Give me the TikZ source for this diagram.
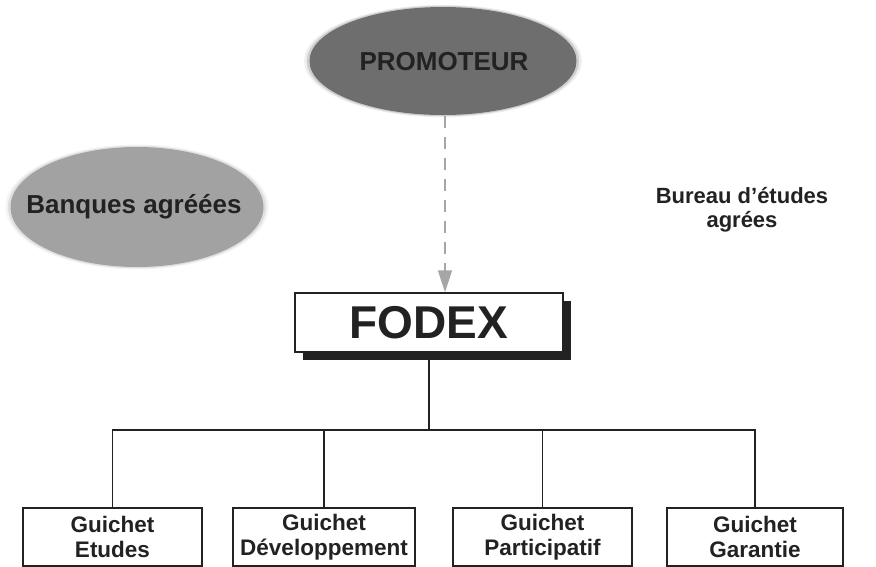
\documentclass[tikz,border=0pt]{standalone}
\usepackage{fontspec}
\setmainfont{Liberation Sans}
\usetikzlibrary{arrows.meta,shadows,shapes.geometric}
\definecolor{ink}{HTML}{222222}
\definecolor{darkoval}{HTML}{6E6E6E}
\definecolor{lightoval}{HTML}{A2A2A2}
\tikzset{
  oval/.style={ellipse, inner sep=0pt, text=ink, font=\bfseries\fontsize{26}{28}\selectfont},
  guichet/.style={draw=ink, line width=1.4pt, fill=white, minimum width=#1, minimum height=58pt, inner sep=0pt, align=center, text=ink, font=\bfseries\fontsize{22.5}{25.5}\selectfont},
  link/.style={draw=ink, line width=1.5pt},
}
\begin{document}
\begin{tikzpicture}[x=1pt,y=-1pt]
\useasboundingbox (0,0) rectangle (876,566);
% soft edges
\foreach \s/\o in {1.04/0.12,1.02/0.25}{
  \fill[darkoval,opacity=\o] (443,61) ellipse ({133.5*\s} and {54*\s});
  \fill[lightoval,opacity=\o] (137,207) ellipse ({126.5*\s} and {60*\s});
}
\fill[darkoval] (443,61) ellipse (133.5 and 54);
\fill[lightoval] (137,207) ellipse (126.5 and 60);
\node[oval, minimum width=267pt, minimum height=108pt] (prom) at (444,62) {PROMOTEUR};
\node[oval, minimum width=253pt, minimum height=120pt] (banq) at (134,207) {Banques agréées};
\node[align=center, text=ink, font=\bfseries\fontsize{22}{24}\selectfont] (bureau) at (742,210) {Bureau d’études\\agrées};
% FODEX box with shadow
\node[draw=ink, line width=1.4pt, fill=white, minimum width=268pt, minimum height=59pt, inner sep=0pt, text=ink,
  font=\bfseries\fontsize{46}{50}\selectfont,
  drop shadow={shadow xshift=8pt, shadow yshift=-8pt, fill=ink, opacity=1}] (fodex) at (429,322.5) {FODEX};
% dashed arrow
\draw[gray!70, line width=1.4pt, dash pattern=on 12pt off 9pt, -{Triangle[width=14pt,length=22pt]}] (prom.south) ++(1,0) coordinate (ps) -- (ps |- fodex.north);
% bottom boxes
\node[guichet=179pt] (g1) at (112.5,537) {Guichet\\Etudes};
\node[guichet=182pt] (g2) at (324,537) {Guichet\\Développement};
\node[guichet=179pt] (g3) at (542.5,537) {Guichet\\Participatif};
\node[guichet=176pt] (g4) at (755,537) {Guichet\\Garantie};
\coordinate (bus) at (429,430);
\draw[link] (fodex.south) -- (bus);
\draw[link] (g1.north) -- (g1.north |- bus) -- (g4.north |- bus) -- (g4.north);
\draw[link] (g2.north) -- (g2.north |- bus);
\draw[link] (g3.north) -- (g3.north |- bus);
\end{tikzpicture}
\end{document}
